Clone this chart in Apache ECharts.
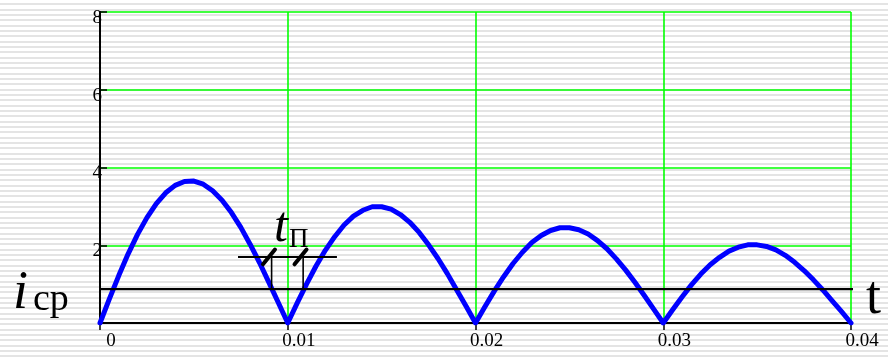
<!DOCTYPE html>
<html>
<head>
<meta charset="utf-8">
<script src="https://cdn.jsdelivr.net/npm/echarts@6/dist/echarts.min.js"></script>
<style>
html,body{margin:0;padding:0;}
body{background:repeating-linear-gradient(to bottom,#ffffff 0px,#ffffff 3.4px,#e4e4e4 3.4px,#e4e4e4 5.333px);}
#c{width:888px;height:359px;}
</style>
</head>
<body>
<div id="c"></div>
<script>
// time axis (s)
var tValues = [0,0.0005,0.001,0.0015,0.002,0.0025,0.003,0.0035,0.004,0.0045,
0.005,0.0055,0.006,0.0065,0.007,0.0075,0.008,0.0085,0.009,0.0095,
0.01,0.0105,0.011,0.0115,0.012,0.0125,0.013,0.0135,0.014,0.0145,
0.015,0.0155,0.016,0.0165,0.017,0.0175,0.018,0.0185,0.019,0.0195,
0.02,0.0205,0.021,0.0215,0.022,0.0225,0.023,0.0235,0.024,0.0245,
0.025,0.0255,0.026,0.0265,0.027,0.0275,0.028,0.0285,0.029,0.0295,
0.03,0.0305,0.031,0.0315,0.032,0.0325,0.033,0.0335,0.034,0.0345,
0.035,0.0355,0.036,0.0365,0.037,0.0375,0.038,0.0385,0.039,0.0395,0.04];
// rectified current values
var iValues = [0,0.62,1.22,1.78,2.28,2.71,3.07,3.35,3.54,3.64,3.65,3.57,3.40,3.16,2.84,2.46,2.02,1.55,1.04,0.52,
0,0.51,1.00,1.46,1.87,2.22,2.52,2.75,2.90,2.99,2.99,2.93,2.79,2.59,2.33,2.01,1.66,1.27,0.85,0.43,
0,0.42,0.82,1.19,1.53,1.82,2.07,2.25,2.38,2.45,2.45,2.40,2.29,2.12,1.91,1.65,1.36,1.04,0.70,0.35,
0,0.34,0.67,0.98,1.26,1.50,1.69,1.85,1.95,2.01,2.01,1.97,1.88,1.74,1.56,1.35,1.11,0.85,0.57,0.29,0];
// average current level
var icpLevel = 0.87;
var icpSpan = [0, 0.0403];
// t_П annotation
var tpBarLevel = 1.70;
var tpBarSpan = [0.00735, 0.01262];
var tpEdges = [0.00914, 0.01082];
var tpSlashCenters = [0.0090, 0.01068];
var slashHalf = [0.00032, 0.19];
// axis ticks
var xTicks = {min:0, max:0.04, interval:0.01};
var yTicks = {min:0, max:8, interval:2};

var curve = tValues.map(function(t,i){return [t,iValues[i]];});
var series = [];
series.push({type:'line', data:curve, showSymbol:false, symbol:'none',
  lineStyle:{color:'#0000ff', width:5, cap:'round', join:'round'}, z:5, animation:false});
series.push({type:'line', data:[[icpSpan[0],icpLevel],[icpSpan[1],icpLevel]], clip:false,
  showSymbol:false, symbol:'none', lineStyle:{color:'#000', width:2.2}, z:6, animation:false});
series.push({type:'line', data:[[tpBarSpan[0],tpBarLevel],[tpBarSpan[1],tpBarLevel]],
  showSymbol:false, symbol:'none', lineStyle:{color:'#000', width:2}, z:6, animation:false});
tpEdges.forEach(function(t){
  series.push({type:'line', data:[[t,icpLevel],[t,tpBarLevel]],
    showSymbol:false, symbol:'none', lineStyle:{color:'#000', width:1.6}, z:6, animation:false});
});
tpSlashCenters.forEach(function(t){
  series.push({type:'line', data:[[t-slashHalf[0],tpBarLevel-slashHalf[1]],[t+slashHalf[0],tpBarLevel+slashHalf[1]]],
    showSymbol:false, symbol:'none', lineStyle:{color:'#000', width:4, cap:'round'}, z:7, animation:false});
});

var serif = '"Liberation Serif","DejaVu Serif",serif';
var chart = echarts.init(document.getElementById('c'), null, {renderer:'canvas'});
chart.setOption({
  backgroundColor:'transparent',
  animation:false,
  grid:{left:100, right:37, top:12, bottom:36},
  xAxis:{type:'value', min:xTicks.min, max:xTicks.max, interval:xTicks.interval,
    axisLine:{onZero:false, lineStyle:{color:'#000', width:2}},
    axisTick:{show:true, inside:false, length:7, lineStyle:{color:'#000', width:1.5}},
    splitLine:{show:true, lineStyle:{color:'#00ff00', width:1.6}},
    axisLabel:{color:'#000', fontFamily:serif, fontSize:19, margin:9, padding:[0,0,0,22],
      formatter:function(v){return String(v);}}
  },
  yAxis:{type:'value', min:yTicks.min, max:yTicks.max, interval:yTicks.interval,
    axisLine:{lineStyle:{color:'#000', width:2}},
    axisTick:{show:true, inside:true, length:7, lineStyle:{color:'#000', width:1.5}},
    splitLine:{show:true, lineStyle:{color:'#00ff00', width:1.6}},
    axisLabel:{color:'#000', fontFamily:serif, fontSize:19, margin:-2, verticalAlign:'top', lineHeight:12,
      formatter:function(v){return v===0?'':String(v);}}
  },
  series:series,
  graphic:[
    {type:'text', x:13, y:294, z:10, style:{text:'i', font:'italic 54px '+serif, fill:'#000', verticalAlign:'middle', align:'left'}},
    {type:'text', x:33, y:300, z:10, style:{text:'ср', font:'38px '+serif, fill:'#000', verticalAlign:'middle', align:'left'}},
    {type:'text', x:274, y:228, z:10, style:{text:'t', font:'italic 50px '+serif, fill:'#000', verticalAlign:'middle', align:'left'}},
    {type:'text', x:289, y:240, z:10, style:{text:'П', font:'27px '+serif, fill:'#000', verticalAlign:'middle', align:'left'}},
    {type:'text', x:866, y:299, z:10, style:{text:'t', font:'54px '+serif, fill:'#000', verticalAlign:'middle', align:'left'}}
  ]
});
</script>
</body>
</html>
